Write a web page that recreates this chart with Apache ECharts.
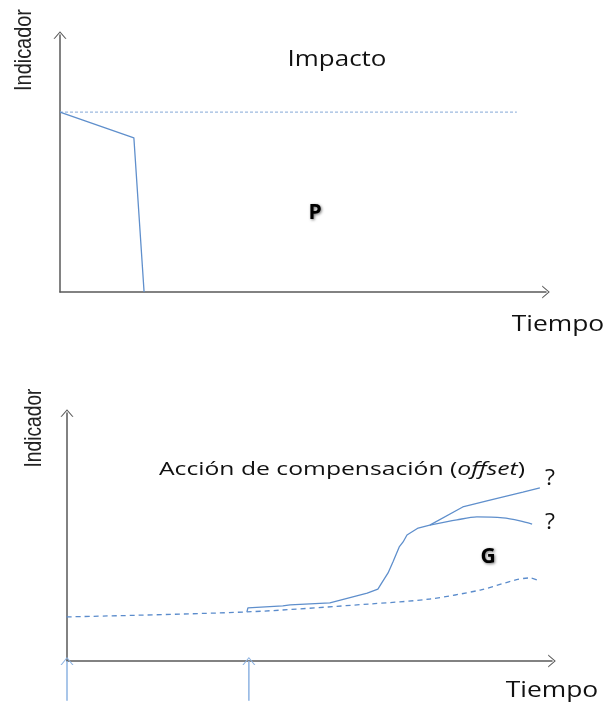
<!DOCTYPE html>
<html>
<head>
<meta charset="utf-8">
<script src="https://cdn.jsdelivr.net/npm/echarts@6/dist/echarts.min.js"></script>
<style>html,body{margin:0;padding:0;background:#fff;}#c{width:604px;height:702px;}</style>
</head>
<body>
<div id="c"></div>
<script>
// ---- data (time, indicator) ----
const impactBaseline = [[0, 70], [94, 70]];
const impactPath = [[0, 70], [15.2, 60], [17.3, 0]];
const offsetBaseline = [[-1.9, 17.7], [37.1, 19.8], [62.5, 23], [74.8, 25], [85.2, 28.6], [95.5, 33.5], [96.9, 32.7]];
const offsetRise = [[37.1, 19.8], [37.3, 21.4], [44.5, 22.2], [46, 22.6], [54.2, 23.4], [61.9, 27.4], [64.1, 29], [64.9, 31.5], [66.2, 35.5], [67.2, 39.9], [68.5, 46], [69.3, 48], [70.1, 50.8], [72.4, 53.6], [74.8, 54.8]];
const scenarioHigh = [[74.8, 54.8], [81.6, 62.1], [87.2, 64.9], [94, 68.1], [97.5, 69.8]];
const scenarioLow = [[74.8, 54.8], [80.4, 56.9], [84.5, 58.1], [89.9, 57.7], [93.4, 56.5], [95.9, 55.2]];
const actionTimes = [0, 37.5];
const arrowBottom = -16;

const chevron = 'path://M0,14 L12,0 L24,14 L21.6,14 L12,2.8 L2.4,14 Z';
const axisGray = '#595959';

function axis(gridIndex) {
  return {
    type: 'value', gridIndex: gridIndex, min: 0, max: 100,
    axisLine: { show: true, onZero: false, symbol: ['none', chevron], symbolSize: [13, 8], lineStyle: { color: axisGray, width: 1.5 } },
    axisTick: { show: false }, axisLabel: { show: false }, splitLine: { show: false }
  };
}

function arrowSeries(t) {
  return {
    type: 'line', xAxisIndex: 1, yAxisIndex: 1, clip: false, silent: true,
    data: [{ value: [t, arrowBottom], symbol: 'none' }, { value: [t, 0], symbol: chevron, symbolSize: [13, 8] }],
    showSymbol: true,
    lineStyle: { color: '#8db3e2', width: 1.5 },
    itemStyle: { color: '#8db3e2', borderWidth: 0 }
  };
}

const series = [
  { type: 'line', xAxisIndex: 0, yAxisIndex: 0, data: impactBaseline, showSymbol: false, silent: true,
    lineStyle: { color: '#9dbae0', width: 1.2, type: [3, 2] } },
  { type: 'line', xAxisIndex: 0, yAxisIndex: 0, data: impactPath, showSymbol: false, silent: true,
    lineStyle: { color: '#5f8fcc', width: 1.3 } },
  { type: 'line', xAxisIndex: 1, yAxisIndex: 1, data: offsetBaseline, showSymbol: false, silent: true, clip: false, smooth: 0.3,
    lineStyle: { color: '#5b8ccc', width: 1.3, type: [5, 4] } },
  { type: 'line', xAxisIndex: 1, yAxisIndex: 1, data: offsetRise.concat(scenarioHigh.slice(1)), showSymbol: false, silent: true,
    lineStyle: { color: '#5f8fcc', width: 1.3 } },
  { type: 'line', xAxisIndex: 1, yAxisIndex: 1, data: scenarioLow, showSymbol: false, silent: true, smooth: 0.3,
    lineStyle: { color: '#5f8fcc', width: 1.3 } }
].concat(actionTimes.map(arrowSeries));

const txtFont = "'Open Sans', 'Noto Sans', sans-serif";
function label(text, x, y, size, opts) {
  opts = opts || {};
  return {
    type: 'text', x: x, y: y, rotation: opts.rotation || 0, scaleX: opts.scaleX || 1, silent: true,
    style: Object.assign({
      text: text, align: 'center', verticalAlign: 'middle',
      font: (opts.weight || 'normal') + ' ' + size + 'px ' + (opts.family || txtFont),
      fill: opts.fill || '#111'
    }, opts.extra || {})
  };
}

const shadow = { textShadowColor: 'rgba(0,0,0,0.55)', textShadowBlur: 3, textShadowOffsetX: 1, textShadowOffsetY: 1.5 };
const narrow = "'Liberation Sans Narrow', 'Liberation Sans', sans-serif";

const graphics = [
  label('Indicador', 24, 50, 24, { rotation: Math.PI / 2, scaleX: 0.83, family: narrow, fill: '#222' }),
  label('Indicador', 34, 428, 24, { rotation: Math.PI / 2, scaleX: 0.8, family: narrow, fill: '#222' }),
  label('Impacto', 337, 60, 22, { scaleX: 1.18 }),
  label('Tiempo', 558, 325, 22, { scaleX: 1.2 }),
  label('Tiempo', 552, 691, 22, { scaleX: 1.2 }),
  label('P', 315, 213, 21, { weight: 'bold', fill: '#000', extra: shadow }),
  label('G', 488, 557, 21, { weight: 'bold', fill: '#000', extra: shadow }),
  label('?', 550, 479, 21, { scaleX: 1.1 }),
  label('?', 550, 523, 21, { scaleX: 1.1 }),
  {
    type: 'text', x: 342, y: 470, scaleX: 1.3, silent: true,
    style: {
      text: '{n|Acción de compensación (}{i|offset}{n|)}', align: 'center', verticalAlign: 'middle',
      rich: {
        n: { font: 'normal 19px ' + txtFont, fill: '#111' },
        i: { font: 'italic 19px ' + txtFont, fill: '#111' }
      }
    }
  }
];

const chart = echarts.init(document.getElementById('c'), null, { renderer: 'canvas' });
chart.setOption({
  backgroundColor: '#ffffff',
  animation: false,
  grid: [
    { left: 60, top: 35, width: 486, height: 257 },
    { left: 67, top: 413, width: 485, height: 248 }
  ],
  xAxis: [axis(0), axis(1)],
  yAxis: [axis(0), axis(1)],
  series: series,
  graphic: graphics
});
</script>
</body>
</html>
